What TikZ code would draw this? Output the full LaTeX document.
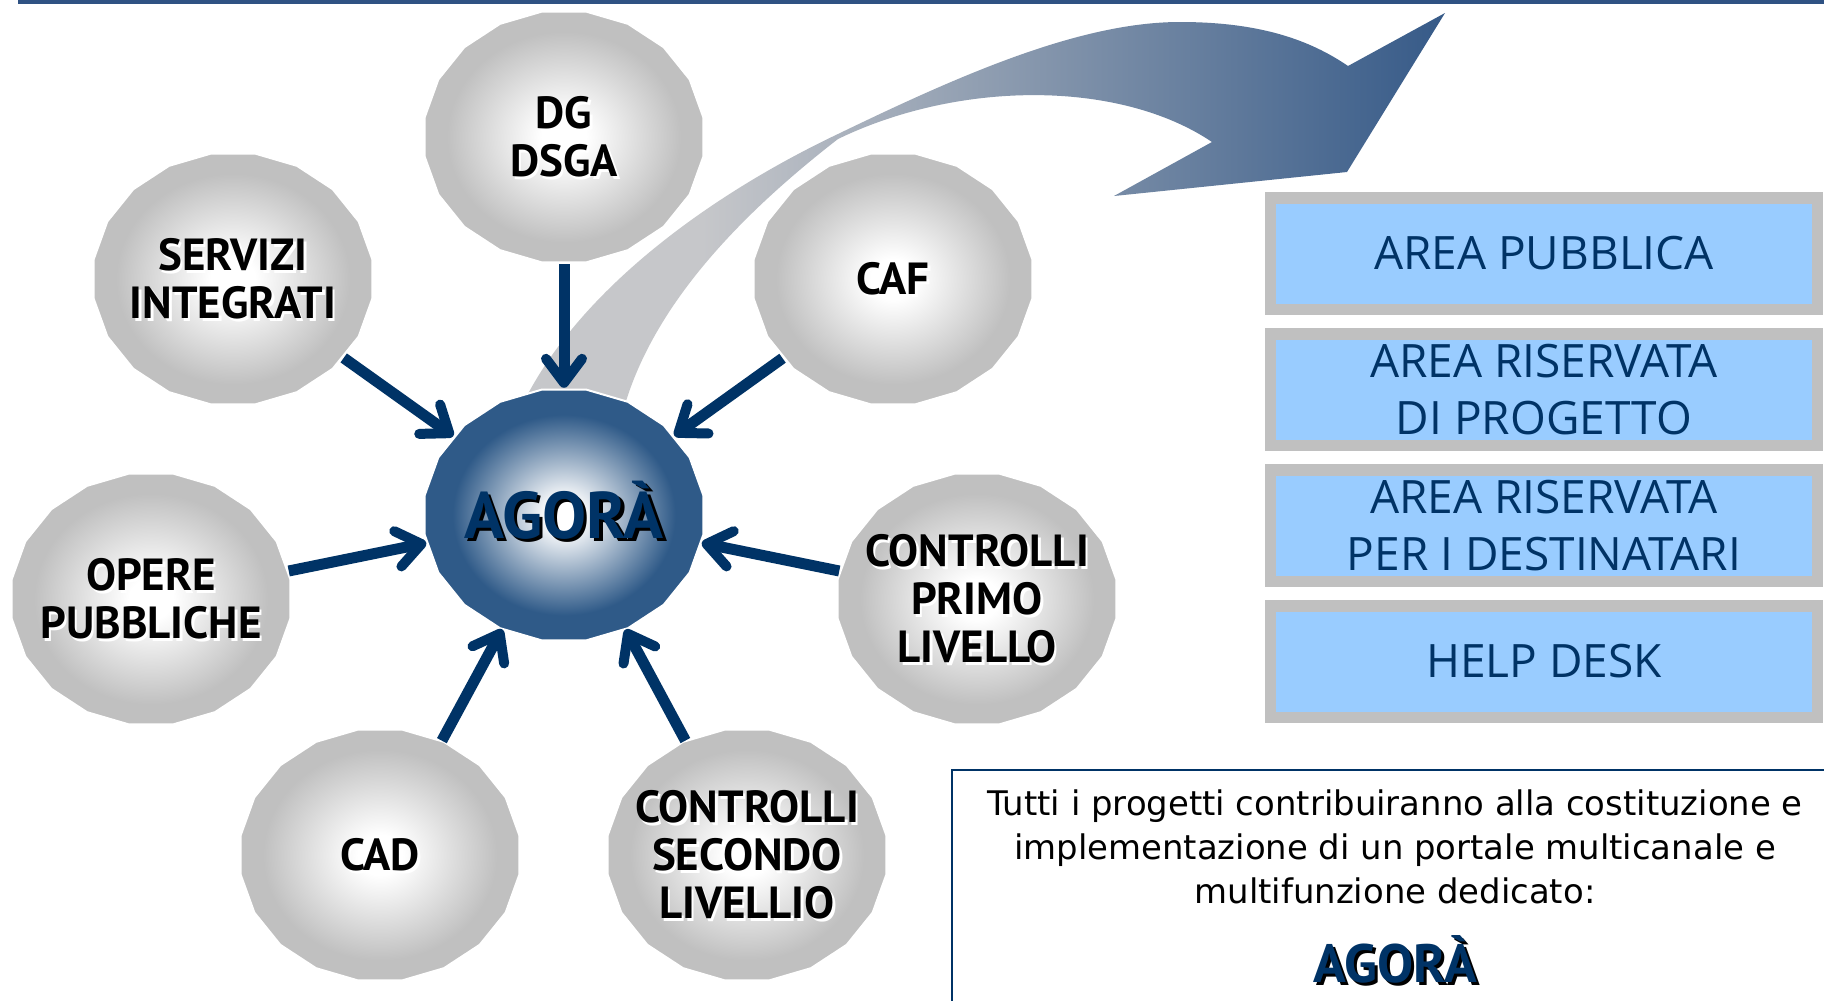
\documentclass[tikz,border=0pt]{standalone}
\usepackage{fontspec}
\setmainfont{DejaVu Sans}
\newfontfamily\ptsans{PT Sans}
\newfontfamily\opensans{Open Sans}
\usetikzlibrary{arrows.meta,shapes.geometric,calc}
\definecolor{navy}{HTML}{003366}
\definecolor{topblue}{HTML}{2F5283}
\definecolor{bubgray}{HTML}{C0C0C0}
\definecolor{agblue}{HTML}{2F5A88}
\definecolor{boxgray}{HTML}{C0C0C0}
\definecolor{boxblue}{HTML}{99CCFF}
\definecolor{arrgray}{HTML}{C6C7CA}
\definecolor{arrblue}{HTML}{365A88}
\pgfdeclareradialshading{bubsh}{\pgfpointorigin}{color(0bp)=(white); color(4bp)=(white); color(21bp)=(bubgray); color(50bp)=(bubgray)}
\pgfdeclareradialshading{agsh}{\pgfpointorigin}{color(0bp)=(white); color(3bp)=(white); color(20bp)=(agblue); color(50bp)=(agblue)}
\pgfdeclarehorizontalshading{bigarrowsh}{100bp}{color(0bp)=(arrgray); color(35bp)=(arrgray); color(75bp)=(arrblue); color(100bp)=(arrblue)}
\newcommand{\drawbubble}[3]{%
  \shadedraw[shading=#1, draw=white, line width=2pt] (#2,#3) +(9:141 and 127)
    \foreach \k in {1,...,19}{ -- +({9+18*\k}:141 and 127)} -- cycle;}
\newcommand{\bubble}[4]{%
  \drawbubble{bubsh}{#2}{#3}
  \node[bubshape] (#1) at (#2,#3) {};
  \node[bubglow] (#1-glow) at ($(#2,#3)+(2.5,2.5)$) {#4};
  \node[bubtext] (#1-text) at (#2,#3) {#4};}
\begin{document}
\begin{tikzpicture}[x=1pt,y=-1pt,
  bubshape/.style={ellipse, minimum width=282pt, minimum height=254pt, inner sep=0pt},
  bubtext/.style={font=\ptsans\bfseries\fontsize{45}{48}\selectfont, align=center, text=black, inner sep=0pt},
  bubglow/.style={bubtext, text=white},
  agtext/.style={font=\ptsans\bfseries\fontsize{66}{70}\selectfont, text=navy, inner sep=0pt},
  agshadow/.style={agtext, text=black},
  arr/.style={draw=navy, line width=11pt, -{Straight Barb[length=24pt, width=36pt, line width=10pt, round]}},
  areabox/.style={rectangle, fill=boxblue, draw=boxgray, line width=11.5pt, minimum width=547pt, minimum height=111.5pt, inner sep=0pt, font=\opensans\fontsize{46}{57}\selectfont, text=navy, align=center},
  paratext/.style={font=\fontsize{33.9}{44}\selectfont, align=center, inner sep=0pt, text=black},
  smallag/.style={font=\ptsans\bfseries\fontsize{54}{60}\selectfont, text=navy, inner sep=0pt},
  smallagshadow/.style={smallag, text=black}]
\useasboundingbox (0,0) rectangle (1824,1001);
\clip (0,0) rectangle (1824,1001);
\fill[white] (0,0) rectangle (1824,1001);
% top rule
\fill[topblue] (18,0) rectangle (1824,3.5);
% big curved arrow
\shade[shading=bigarrowsh] (529,392) .. controls (590,280) and (720,190) .. (838,134)
  .. controls (960,75) and (1080,22) .. (1180,22)
  .. controls (1260,22) and (1310,40) .. (1348,66)
  -- (1445,13) -- (1347,172) -- (1114,196) -- (1212,142)
  .. controls (1120,80) and (960,80) .. (838,139)
  .. controls (740,215) and (660,300) .. (628,395)
  -- (620,420) -- (516,416) -- cycle;
% bubbles
\bubble{dg}{564}{137}{DG\\DSGA}
\bubble{srv}{233}{279}{SERVIZI\\INTEGRATI}
\bubble{caf}{893}{279}{CAF}
\bubble{opere}{151}{599}{OPERE\\PUBBLICHE}
\bubble{cpl}{977}{599}{CONTROLLI\\PRIMO\\LIVELLO}
\bubble{cad}{380}{855}{CAD}
\bubble{csl}{747}{855}{CONTROLLI\\SECONDO\\LIVELLIO}
% central bubble
\drawbubble{agsh}{564}{515}
\node[bubshape] (agora) at (564,515) {};
\node[agshadow, anchor=base] (agora-shadow) at (567.5,541.5) {AGORÀ};
\node[agtext, anchor=base] (agora-text) at (564,538) {AGORÀ};
% arrows
\draw[arr] (dg) -- (agora);
\draw[arr] (srv) -- (agora);
\draw[arr] (caf) -- (agora);
\draw[arr] (opere) -- (agora);
\draw[arr] (cpl) -- (agora);
\draw[arr] (cad) -- (agora);
\draw[arr] (csl) -- (agora);
% right boxes
\node[areabox] (box1) at (1544,253.5) {AREA PUBBLICA};
\node[areabox] (box2) at (1544,389.5) {AREA RISERVATA\\DI PROGETTO};
\node[areabox] (box3) at (1544,525.5) {AREA RISERVATA\\PER I DESTINATARI};
\node[areabox] (box4) at (1544,661.5) {HELP DESK};
% text box
\draw[navy, line width=2.5pt] (952,770) rectangle (1840,1030);
\node[paratext, anchor=north] (para) at (1395,790) {Tutti i progetti contribuiranno alla costituzione e\\implementazione di un portale multicanale e\\multifunzione dedicato:};
\node[smallagshadow, anchor=base] (agora2-shadow) at (1398,985) {AGORÀ};
\node[smallag, anchor=base] (agora2) at (1395,982) {AGORÀ};
\end{tikzpicture}
\end{document}
